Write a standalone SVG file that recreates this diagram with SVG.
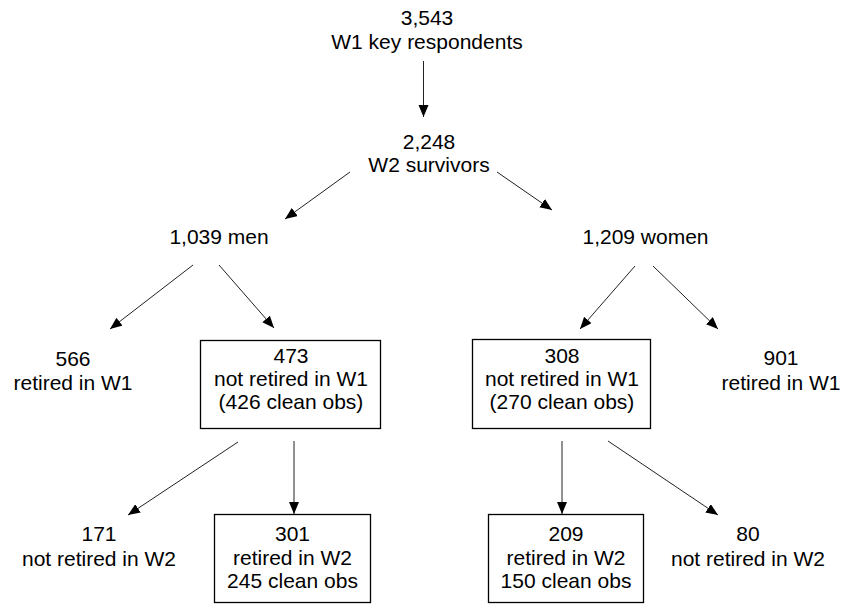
<svg xmlns="http://www.w3.org/2000/svg" width="846" height="606" viewBox="0 0 846 606">
<defs>
<marker id="ah" markerUnits="userSpaceOnUse" markerWidth="13" markerHeight="11" refX="12" refY="5" orient="auto">
<path d="M0,0 L12,5 L0,10 z" fill="#000"/>
</marker>
<style>
text{font-family:"Liberation Sans",Arial,sans-serif;font-size:21px;fill:#000;text-anchor:middle}
.box{fill:#fff;stroke:#000;stroke-width:1.3}
.c line{stroke:#222;stroke-width:1;marker-end:url(#ah)}
</style>
</defs>
<rect width="846" height="606" fill="#fff"/>
<g class="c" id="connectors">
<line x1="423.5" y1="61" x2="423.5" y2="117"/>
<line x1="350" y1="172" x2="285" y2="219"/>
<line x1="497" y1="172" x2="552" y2="210"/>
<line x1="193" y1="265" x2="110" y2="329"/>
<line x1="219" y1="265" x2="274" y2="328"/>
<line x1="635" y1="266" x2="580" y2="329"/>
<line x1="653" y1="266" x2="718" y2="329"/>
<line x1="238" y1="442" x2="128" y2="515"/>
<line x1="294" y1="441" x2="294" y2="514"/>
<line x1="562" y1="441" x2="562" y2="514"/>
<line x1="608" y1="441" x2="718" y2="515"/>
</g>
<g id="n-w1">
<text x="427" y="25">3,543</text>
<text x="427" y="49">W1 key respondents</text>
</g>
<g id="n-w2">
<text x="429" y="149">2,248</text>
<text x="429" y="172">W2 survivors</text>
</g>
<g id="n-men"><text x="219" y="244">1,039 men</text></g>
<g id="n-women"><text x="645.5" y="243.5">1,209 women</text></g>
<g id="n-m-ret"><text x="73" y="366">566</text><text x="73" y="390">retired in W1</text></g>
<g id="n-m-notret">
<rect class="box" x="200.5" y="340.5" width="180" height="88"/>
<text x="291" y="363">473</text>
<text x="291" y="386">not retired in W1</text>
<text x="291" y="409">(426 clean obs)</text>
</g>
<g id="n-w-notret">
<rect class="box" x="472.5" y="339.5" width="178" height="89"/>
<text x="562" y="363">308</text>
<text x="562" y="386">not retired in W1</text>
<text x="562" y="409">(270 clean obs)</text>
</g>
<g id="n-w-ret"><text x="781" y="365">901</text><text x="781" y="390">retired in W1</text></g>
<g id="n-m-notret2"><text x="99" y="541">171</text><text x="99" y="566">not retired in W2</text></g>
<g id="n-m-ret2">
<rect class="box" x="214.5" y="514.5" width="156" height="88"/>
<text x="292.5" y="541">301</text>
<text x="292.5" y="565">retired in W2</text>
<text x="292.5" y="588">245 clean obs</text>
</g>
<g id="n-w-ret2">
<rect class="box" x="488.5" y="514.5" width="155" height="88"/>
<text x="566" y="541">209</text>
<text x="566" y="565">retired in W2</text>
<text x="566" y="588">150 clean obs</text>
</g>
<g id="n-w-notret2"><text x="748" y="541">80</text><text x="748" y="566">not retired in W2</text></g>
</svg>
